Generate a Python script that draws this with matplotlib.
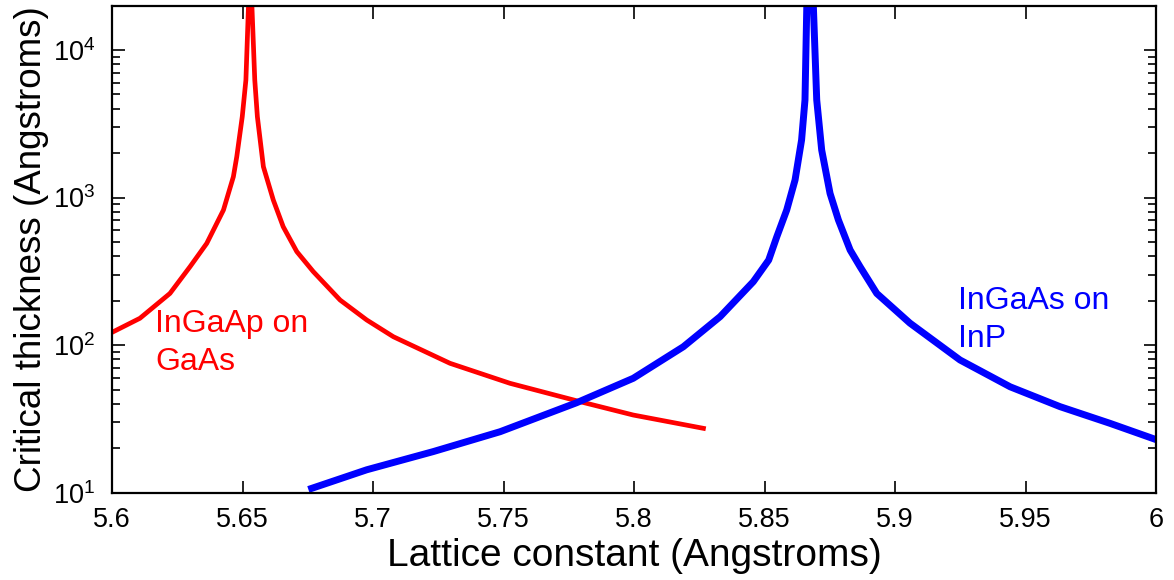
import numpy as np
import matplotlib
matplotlib.use("Agg")
import matplotlib.pyplot as plt
from matplotlib.ticker import FixedLocator, FixedFormatter, LogLocator, NullFormatter

# InGaAsP on GaAs (red)
red_x = [5.600, 5.6107, 5.6222, 5.6299, 5.6363, 5.6427, 5.6465, 5.6478, 5.6499, 5.6513, 5.6523,
         5.6530,
         5.6536, 5.6547, 5.6557, 5.6580, 5.6618, 5.6656, 5.6708, 5.6771, 5.6874, 5.6976, 5.7078,
         5.7295, 5.7525, 5.7793, 5.7997, 5.8266]
red_y = [122, 152, 224, 340, 489, 823, 1383, 1890, 3525, 6250, 20000,
         30000,
         20000, 6250, 3525, 1618, 962, 634, 430, 315, 202, 148, 114,
         75.3, 55.1, 41.4, 33.6, 27.3]

# InGaAs on InP (blue)
blue_x = [5.6765, 5.6976, 5.7231, 5.7487, 5.7780, 5.7997, 5.8189, 5.8330, 5.8457, 5.8516,
          5.8547, 5.8585, 5.8617, 5.8642, 5.8655, 5.8662,
          5.8675,
          5.8687, 5.8700, 5.8719, 5.8751, 5.8783, 5.8828, 5.8866, 5.8930, 5.9057, 5.9249,
          5.9441, 5.9632, 5.9824, 6.000]
blue_y = [10.7, 14.3, 19.0, 25.9, 40.7, 59.6, 97.5, 156, 269, 377,
          542, 823, 1315, 2455, 4580, 20000,
          30000,
          20000, 4580, 2099, 1067, 705, 441, 340, 224, 141, 79.3,
          52.2, 38.3, 29.5, 22.9]

x_ticks = [5.6, 5.65, 5.7, 5.75, 5.8, 5.85, 5.9, 5.95, 6.0]
x_labels = ["5.6", "5.65", "5.7", "5.75", "5.8", "5.85", "5.9", "5.95", "6"]
y_ticks = [10, 100, 1000, 10000]
y_labels = [r"$10^{1}$", r"$10^{2}$", r"$10^{3}$", r"$10^{4}$"]

plt.rcParams["font.family"] = ["Liberation Sans", "DejaVu Sans"]
plt.rcParams["mathtext.fontset"] = "custom"
plt.rcParams["mathtext.rm"] = "Liberation Sans"
plt.rcParams["mathtext.default"] = "regular"

fig = plt.figure(figsize=(11.74, 5.8), dpi=100)
ax = fig.add_axes([0.0954, 0.1505, 0.8893, 0.84])

ax.plot(red_x, red_y, color=(1, 0, 0), lw=3.4)
ax.plot(blue_x, blue_y, color=(0, 0, 1), lw=5)

ax.set_yscale("log")
ax.set_xlim(5.6, 6.0)
ax.set_ylim(10, 20000)

ax.xaxis.set_major_locator(FixedLocator(x_ticks))
ax.xaxis.set_major_formatter(FixedFormatter(x_labels))
ax.yaxis.set_major_locator(FixedLocator(y_ticks))
ax.yaxis.set_major_formatter(FixedFormatter(y_labels))
ax.yaxis.set_minor_locator(LogLocator(base=10, subs=np.arange(2, 10)))
ax.yaxis.set_minor_formatter(NullFormatter())

ax.tick_params(which="both", direction="in", top=True, right=True, width=1.2, labelsize=19.5)
ax.tick_params(which="major", length=9)
ax.tick_params(which="minor", length=6)
ax.tick_params(axis="x", pad=10)
ax.tick_params(axis="y", pad=12)
for s in ax.spines.values():
    s.set_linewidth(1.6)

ax.set_xlabel("Lattice constant (Angstroms)", fontsize=28, labelpad=4)
ax.set_ylabel("Critical thickness (Angstroms)", fontsize=26.5, labelpad=3)

ax.text(5.6165, 177, "InGaAp on\nGaAs", color=(1, 0, 0), fontsize=23,
        va="top", ha="left", linespacing=1.37)
ax.text(5.9243, 252, "InGaAs on\nInP", color=(0, 0, 1), fontsize=23,
        va="top", ha="left", linespacing=1.37)

fig.savefig("out.png", dpi=100)
